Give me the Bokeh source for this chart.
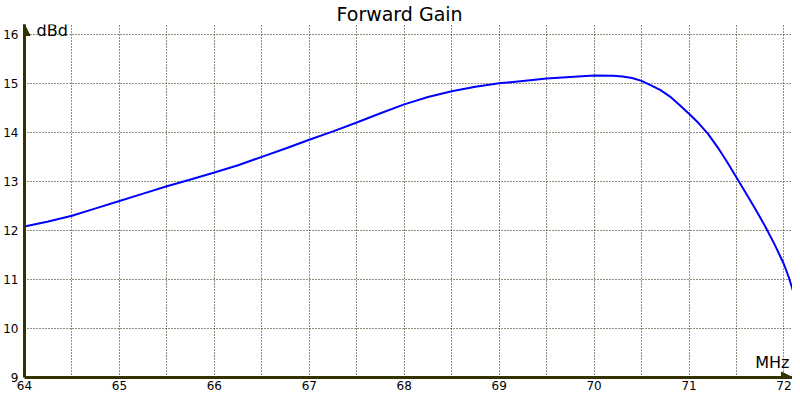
from bokeh.plotting import figure
from bokeh.models import Range1d, FixedTicker, Arrow, NormalHead, Label
from bokeh.embed import file_html
from bokeh.resources import INLINE

# ---- data ----
freq = [64.0, 64.25, 64.5, 64.75, 65.0, 65.25, 65.5, 65.75, 66.0, 66.25, 66.5, 66.75,
        67.0, 67.25, 67.5, 67.75, 68.0, 68.25, 68.5, 68.75, 69.0, 69.25, 69.5, 69.75,
        70.0, 70.2, 70.3, 70.4, 70.5, 70.6, 70.7, 70.8, 70.9, 71.0, 71.1, 71.2, 71.3,
        71.4, 71.5, 71.6, 71.7, 71.8, 71.9, 72.0, 72.05, 72.1]
gain = [12.08, 12.18, 12.30, 12.45, 12.60, 12.75, 12.90, 13.04, 13.18, 13.33, 13.50, 13.67,
        13.85, 14.02, 14.20, 14.39, 14.57, 14.72, 14.84, 14.93, 15.00, 15.05, 15.10, 15.13,
        15.16, 15.155, 15.14, 15.11, 15.05, 14.96, 14.86, 14.73, 14.56, 14.38, 14.19, 13.97,
        13.70, 13.40, 13.08, 12.76, 12.43, 12.09, 11.72, 11.31, 11.05, 10.74]

x_ticks = [64, 65, 66, 67, 68, 69, 70, 71, 72]
x_grid = [64, 64.5, 65, 65.5, 66, 66.5, 67, 67.5, 68, 68.5, 69, 69.5, 70, 70.5, 71, 71.5, 72]
y_ticks = [9, 10, 11, 12, 13, 14, 15, 16]

title_text = "Forward Gain"
x_unit = "MHz"
y_unit = "dBd"

x_lo, x_hi = 64, 72.09
y_lo, y_hi = 9, 16.2

AXIS = "#333300"
FONT = "DejaVu Sans"

p = figure(width=792, height=392, output_backend="svg", toolbar_location=None,
           x_range=Range1d(x_lo, x_hi), y_range=Range1d(y_lo, y_hi),
           min_border_left=24, min_border_right=0, min_border_top=0, min_border_bottom=0)
p.outline_line_color = None
p.background_fill_color = "white"
p.border_fill_color = "white"

p.title.text = title_text
p.title.align = "left"
p.title.text_font = FONT
p.title.text_font_size = "19px"
p.title.text_font_style = "normal"
p.title.text_color = "#000000"
p.title.standoff = 0
p.title.offset = 312

for ax, ticks, standoff in ((p.xaxis, x_ticks, 3), (p.yaxis, y_ticks, 6)):
    ax.ticker = FixedTicker(ticks=ticks)
    ax.major_label_text_font = FONT
    ax.major_label_text_font_size = "12px"
    ax.major_label_text_color = "#000000"
    ax.major_label_standoff = standoff
    ax.major_tick_line_color = None
    ax.minor_tick_line_color = None
    ax.major_tick_out = 0
    ax.major_tick_in = 0
    ax.minor_tick_out = 0
    ax.axis_line_color = AXIS
    ax.axis_line_width = 3

p.xgrid.ticker = FixedTicker(ticks=x_grid)
p.ygrid.ticker = FixedTicker(ticks=y_ticks)
for g in (p.xgrid, p.ygrid):
    g.grid_line_color = "#222200"
    g.grid_line_dash = "1 2"
    g.grid_line_width = 1

p.line(freq, gain, line_color="#0000ff", line_width=2)

head_kw = dict(size=11, fill_color=AXIS, line_color=AXIS, line_width=1)
p.add_layout(Arrow(end=NormalHead(**head_kw), x_start=x_lo, y_start=y_hi - 0.3,
                   x_end=x_lo, y_end=y_hi, line_color=AXIS, line_width=3))
p.add_layout(Arrow(end=NormalHead(**head_kw), x_start=x_hi - 0.1, y_start=y_lo,
                   x_end=x_hi, y_end=y_lo, line_color=AXIS, line_width=3))

p.add_layout(Label(x=x_lo, y=y_hi, x_offset=12, y_offset=4, text=y_unit,
                   text_align="left", text_baseline="top", text_font=FONT,
                   text_font_size="16px", text_color="#000000"))
p.add_layout(Label(x=x_hi, y=y_lo, x_offset=-3, y_offset=15, text=x_unit,
                   text_align="right", text_baseline="alphabetic", text_font=FONT,
                   text_font_size="16px", text_color="#000000"))

open("out.html", "w").write(file_html(p, INLINE))
